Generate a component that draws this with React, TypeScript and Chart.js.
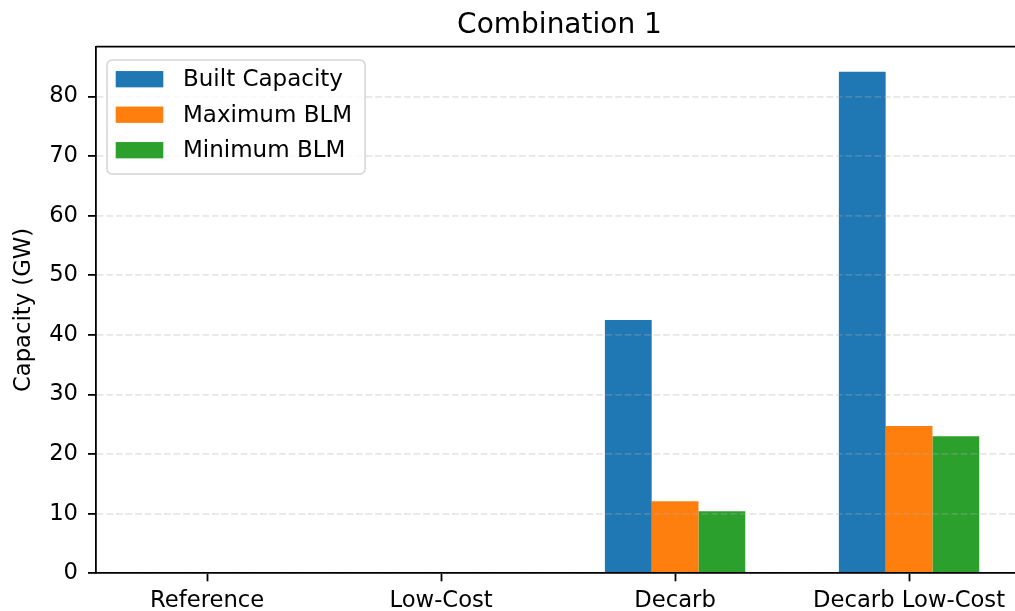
import React, { useEffect, useRef } from "react";
import { Chart, registerables } from "chart.js";

Chart.register(...registerables);

// ---- data ----
const categories = ["Reference", "Low-Cost", "Decarb", "Decarb Low-Cost"];
const builtCapacity = [0, 0, 42.5, 84.15];
const maximumBLM = [0, 0, 12.1, 24.7];
const minimumBLM = [0, 0, 10.4, 23.0];
const seriesLabels = ["Built Capacity", "Maximum BLM", "Minimum BLM"];
const seriesColors = ["#1f77b4", "#ff7f0e", "#2ca02c"];
const yTickValues = [0, 10, 20, 30, 40, 50, 60, 70, 80];
const chartTitle = "Combination 1";
const yAxisTitle = "Capacity (GW)";

const FONT = "'DejaVu Sans', sans-serif";
const W = 1023;
const H = 611;

const decorPlugin = {
  id: "decor",
  afterDraw(chart: any) {
    const { ctx, chartArea: a } = chart;
    ctx.save();
    // top and right spines
    ctx.strokeStyle = "#000";
    ctx.lineWidth = 1.8;
    ctx.beginPath();
    ctx.moveTo(a.left, a.top);
    ctx.lineTo(a.right, a.top);
    ctx.lineTo(a.right, a.bottom);
    ctx.stroke();

    // title
    ctx.fillStyle = "#000";
    ctx.font = `28px ${FONT}`;
    ctx.textAlign = "center";
    ctx.textBaseline = "alphabetic";
    ctx.fillText(chartTitle, (a.left + a.right) / 2, 33);

    // y axis title
    ctx.save();
    ctx.translate(30, (a.top + a.bottom) / 2);
    ctx.rotate(-Math.PI / 2);
    ctx.font = `22.7px ${FONT}`;
    ctx.textAlign = "center";
    ctx.fillText(yAxisTitle, 0, 0);
    ctx.restore();

    // legend
    ctx.font = `23px ${FONT}`;
    const lx = 107;
    const ly = 60;
    const textX = 183;
    const rowStart = 79.2;
    const rowH = 35.5;
    const maxW = Math.max(...seriesLabels.map((l) => ctx.measureText(l).width));
    const lw = textX + maxW + 13 - lx;
    const lh = 114;
    const r = 5;
    ctx.beginPath();
    ctx.moveTo(lx + r, ly);
    ctx.lineTo(lx + lw - r, ly);
    ctx.arcTo(lx + lw, ly, lx + lw, ly + r, r);
    ctx.lineTo(lx + lw, ly + lh - r);
    ctx.arcTo(lx + lw, ly + lh, lx + lw - r, ly + lh, r);
    ctx.lineTo(lx + r, ly + lh);
    ctx.arcTo(lx, ly + lh, lx, ly + lh - r, r);
    ctx.lineTo(lx, ly + r);
    ctx.arcTo(lx, ly, lx + r, ly, r);
    ctx.closePath();
    ctx.fillStyle = "rgba(255,255,255,0.8)";
    ctx.fill();
    ctx.strokeStyle = "#d4d4d4";
    ctx.lineWidth = 1.5;
    ctx.stroke();

    chart.data.datasets.forEach((ds: any, i: number) => {
      const cy = rowStart + i * rowH;
      ctx.fillStyle = ds.backgroundColor;
      ctx.fillRect(115.7, cy - 8.15, 47.6, 16.3);
      ctx.fillStyle = "#000";
      ctx.textAlign = "left";
      ctx.textBaseline = "alphabetic";
      ctx.fillText(ds.label, textX, cy + 7);
    });
    ctx.restore();
  },
};

export default function App() {
  const ref = useRef<HTMLCanvasElement>(null);

  useEffect(() => {
    const seriesData = [builtCapacity, maximumBLM, minimumBLM];
    const yMax = Math.max(...seriesData.flat()) * 1.05;
    const chart = new Chart(ref.current as HTMLCanvasElement, {
      type: "bar",
      data: {
        datasets: seriesData.map((vals, si) => ({
          label: seriesLabels[si],
          data: vals.map((v, i) => ({ x: i, y: v })),
          backgroundColor: seriesColors[si],
          borderWidth: 0,
          barPercentage: 1,
          categoryPercentage: 0.6,
        })),
      },
      options: {
        animation: false,
        responsive: false,
        devicePixelRatio: 1,
        layout: { padding: { top: 46.7, left: 0, right: 0, bottom: 0 } },
        plugins: {
          legend: { display: false },
          title: { display: false },
          tooltip: { enabled: false },
        },
        scales: {
          x: {
            type: "linear",
            min: -0.475,
            max: 3.487,
            offset: false,
            afterBuildTicks: (scale: any) => {
              scale.ticks = categories.map((_, i) => ({ value: i }));
            },
            afterFit: (scale: any) => {
              scale.height = H - 573.3;
            },
            ticks: {
              callback: (v: any) => categories[Math.round(Number(v))] ?? "",
              color: "#000",
              font: { family: FONT, size: 22.7 },
              padding: 6,
              maxRotation: 0,
              autoSkip: false,
            },
            grid: {
              offset: false,
              drawOnChartArea: false,
              drawTicks: true,
              tickLength: 8,
              tickColor: "#000",
              tickWidth: 1.8,
              z: 1,
            },
            border: { display: true, color: "#000", width: 1.8, z: 2 },
          },
          y: {
            type: "linear",
            min: 0,
            max: yMax,
            afterBuildTicks: (scale: any) => {
              scale.ticks = yTickValues.map((v) => ({ value: v }));
            },
            afterFit: (scale: any) => {
              scale.width = 96;
            },
            ticks: {
              color: "#000",
              font: { family: FONT, size: 22.7 },
              padding: 10,
              callback: (v: any) => String(v),
            },
            grid: {
              color: "rgba(176,176,176,0.3)",
              lineWidth: 1.8,
              drawTicks: true,
              tickLength: 8,
              tickColor: "#000",
              tickWidth: 1.8,
              tickBorderDash: [],
              z: 1,
            },
            border: { display: true, color: "#000", width: 1.8, dash: [6.7, 2.9], z: 2 },
          },
        },
      } as any,
      plugins: [decorPlugin],
    });
    return () => chart.destroy();
  }, []);

  return (
    <div style={{ position: "fixed", left: 0, top: 0, width: W, height: H, background: "#fff" }}>
      <canvas ref={ref} width={W} height={H} style={{ display: "block" }} />
    </div>
  );
}
